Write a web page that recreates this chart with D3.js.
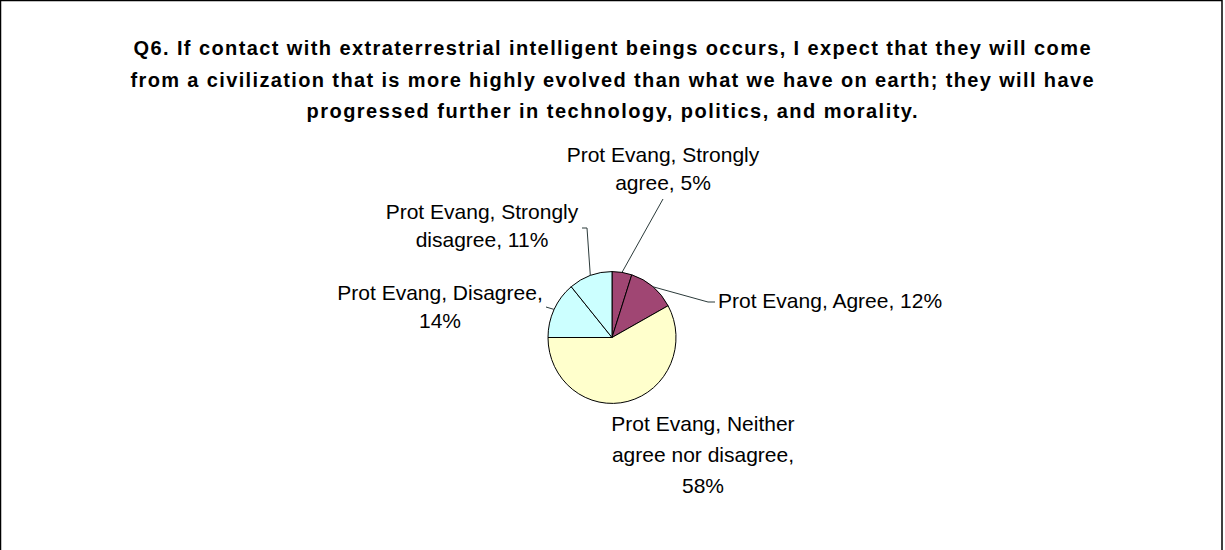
<!DOCTYPE html>
<html>
<head>
<meta charset="utf-8">
<script src="https://cdn.jsdelivr.net/npm/d3@7"></script>
<style>
  html, body { margin: 0; padding: 0; background: #fff; }
  svg { display: block; }
</style>
</head>
<body>
<svg id="chart" width="1225" height="550"></svg>
<script>
// ---- data ----
const titleLines = [
  "Q6. If contact with extraterrestrial intelligent beings occurs, I expect that they will come",
  "from a civilization that is more highly evolved than what we have on earth; they will have",
  "progressed further in technology, politics, and morality."
];
const categories = ["Strongly agree", "Agree", "Neither agree nor disagree", "Disagree", "Strongly disagree"];
const seriesName = "Prot Evang";
const values = [5, 12, 58, 14, 11];
const labelLines = [
  ["Prot Evang, Strongly", "agree, 5%"],
  ["Prot Evang, Agree, 12%"],
  ["Prot Evang, Neither", "agree nor disagree,", "58%"],
  ["Prot Evang, Disagree,", "14%"],
  ["Prot Evang, Strongly", "disagree, 11%"]
];

// ---- styles / layout ----
const colors = ["#A04673", "#A04673", "#FFFFCC", "#CCFFFF", "#CCFFFF"];
const W = 1225, H = 550;
const cx = 612, cy = 337.5, R = 64, ryScale = 1.03;
const titleBase = [55, 87, 118];
const titleWidths = [957, 963, 611];
const labelLayout = [
  {anchor: "middle", x: 663, y: 162, step: 28, leader: [[663, 199]]},
  {anchor: "start",  x: 718, y: 308, step: 28, leader: [[708, 302], [715, 302]]},
  {anchor: "middle", x: 703, y: 431, step: 31, leader: null},
  {anchor: "middle", x: 440, y: 300, step: 28, leader: [[546, 307]]},
  {anchor: "middle", x: 482, y: 219, step: 28, leader: [[587, 228], [582, 228]]}
];

const svg = d3.select("#chart");

// frame
svg.append("rect")
  .attr("x", 0.5).attr("y", 0.5)
  .attr("width", 1221.5).attr("height", H + 20)
  .attr("fill", "#fff").attr("stroke", "#000").attr("stroke-width", 1.5);

// title
svg.append("g").selectAll("text").data(titleLines).join("text")
  .attr("x", W / 2 - 0.5)
  .attr("y", (d, i) => titleBase[i])
  .attr("text-anchor", "middle")
  .attr("textLength", (d, i) => titleWidths[i])
  .attr("lengthAdjust", "spacing")
  .style("font-family", "'Liberation Sans', Arial, sans-serif")
  .style("font-weight", "bold")
  .style("font-size", "20px")
  .attr("fill", "#000")
  .text(d => d);

// pie
const pie = d3.pie().sort(null).value(d => d)(values);
const arc = d3.arc().innerRadius(0).outerRadius(R);
const g = svg.append("g").attr("transform", `translate(${cx},${cy}) scale(1,${ryScale})`);
g.selectAll("path").data(pie).join("path")
  .attr("d", arc)
  .attr("fill", (d, i) => colors[i])
  .attr("stroke", "#000")
  .attr("stroke-width", 1)
  .attr("vector-effect", "non-scaling-stroke");

// leader lines
const edgePoint = d => {
  const a = (d.startAngle + d.endAngle) / 2;
  return [cx + R * Math.sin(a), cy - R * ryScale * Math.cos(a)];
};
const line = d3.line();
svg.append("g").selectAll("path")
  .data(pie.filter((d, i) => labelLayout[i].leader))
  .join("path")
  .attr("d", d => line([edgePoint(d)].concat(labelLayout[d.index].leader)))
  .attr("fill", "none")
  .attr("stroke", "#2b3a3a")
  .attr("stroke-width", 1);

// labels
const lg = svg.append("g")
  .style("font-family", "'Liberation Sans', Arial, sans-serif")
  .style("font-size", "21px")
  .attr("fill", "#000");
labelLines.forEach((lines, i) => {
  const L = labelLayout[i];
  const t = lg.append("text").attr("text-anchor", L.anchor);
  lines.forEach((s, j) => {
    t.append("tspan").attr("x", L.x).attr("y", L.y + j * L.step).text(s);
  });
});
</script>
</body>
</html>
